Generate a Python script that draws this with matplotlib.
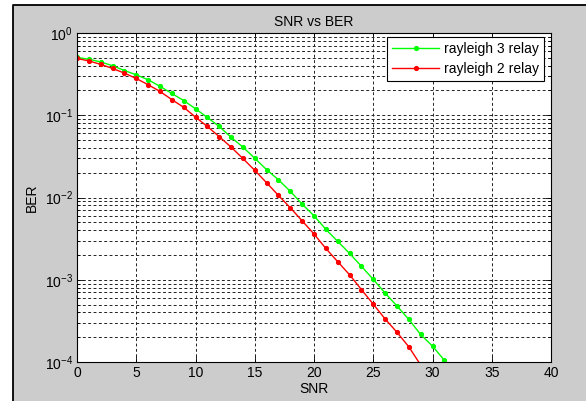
import numpy as np
import matplotlib
matplotlib.use('Agg')
import matplotlib.pyplot as plt
from matplotlib.patches import Rectangle
from matplotlib.lines import Line2D
from matplotlib.ticker import LogLocator

plt.rcParams['font.family'] = ['Liberation Sans', 'DejaVu Sans']
plt.rcParams['axes.unicode_minus'] = False
plt.rcParams['mathtext.default'] = 'regular'

# values
snr_3relay = list(range(0, 32))
ber_3relay = [0.505, 0.48, 0.445, 0.40, 0.35, 0.31, 0.27, 0.225, 0.184, 0.151,
              0.12, 0.094, 0.073, 0.054, 0.041, 0.030, 0.0218, 0.0164, 0.0119, 0.0083,
              0.0060, 0.0041, 0.00293, 0.00209, 0.00146, 0.00101, 0.00069, 0.00048,
              0.00033, 0.000216, 0.000156, 0.000105]
snr_2relay = list(range(0, 30))
ber_2relay = [0.49, 0.458, 0.415, 0.371, 0.325, 0.28, 0.235, 0.195, 0.155, 0.125,
              0.095, 0.073, 0.055, 0.041, 0.0298, 0.0214, 0.0151, 0.0106, 0.0075, 0.0052,
              0.0036, 0.0024, 0.00166, 0.00115, 0.00076, 0.000505, 0.000334, 0.00023,
              0.000153, 0.000092]
x_ticks = [0, 5, 10, 15, 20, 25, 30, 35, 40]

W, H = 586, 401
fig = plt.figure(figsize=(W / 100, H / 100), dpi=100, facecolor='white')
# matlab style gray window, black frame only on the left and top edges
x0, y0 = 12.5 / W, (H - 4.7) / H
fig.patches.append(Rectangle((x0, 0), 1 - x0, y0, transform=fig.transFigure,
                             fc='#cccccc', ec='none', zorder=-10))
fig.lines.append(Line2D([x0, x0, 1], [0, y0, y0], transform=fig.transFigure,
                        color='black', lw=1.3))

ax = fig.add_axes([77 / W, (H - 362) / H, (551 - 77) / W, (362 - 33) / H])
ax.set_facecolor('white')

fs = 10
ax.semilogy(snr_3relay, ber_3relay, color='#00ff00', lw=1.0, marker='.', ms=5.5,
            label='rayleigh 3 relay')
ax.semilogy(snr_2relay, ber_2relay, color='#ff0000', lw=1.0, marker='.', ms=5.5,
            label='rayleigh 2 relay')

ax.set_xlim(0, 40)
ax.set_ylim(1e-4, 1)
ax.set_xticks(x_ticks)
ax.yaxis.set_major_locator(LogLocator(base=10, numticks=10))
ax.yaxis.set_minor_locator(LogLocator(base=10, subs=np.arange(2, 10), numticks=20))

ax.grid(True, which='major', color='#222222', ls=(0, (3, 2.5)), lw=0.7)
ax.grid(True, which='minor', axis='y', color='#222222', ls=(0, (3, 2.5)), lw=0.7)

ax.tick_params(which='both', direction='in', top=True, right=True, labelsize=fs)
ax.tick_params(which='major', length=4, width=0.6, pad=3)
ax.tick_params(which='minor', length=2, width=0.5)
ax.tick_params(axis='x', which='minor', bottom=False, top=False)
for s in ax.spines.values():
    s.set_linewidth(0.8)

ax.set_title('SNR vs BER', fontsize=fs, pad=5)
ax.set_xlabel('SNR', fontsize=fs, labelpad=1)
ax.set_ylabel('BER', fontsize=fs, labelpad=4)

leg = ax.legend(loc='upper right', bbox_to_anchor=(1 - 7 / 474, 1 - 4 / 329),
                borderaxespad=0, fontsize=fs, fancybox=False, framealpha=1,
                edgecolor='black', handlelength=3.4, handletextpad=0.35,
                labelspacing=0.45, borderpad=0.35)
leg.get_frame().set_linewidth(0.8)

fig.savefig('out.png', dpi=100, facecolor=fig.get_facecolor())
